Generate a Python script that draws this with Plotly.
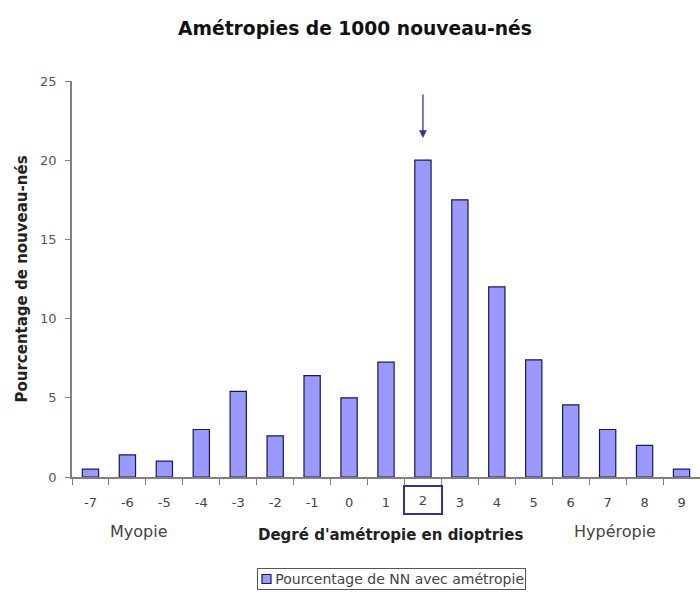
import plotly.graph_objects as go

categories = ["-7", "-6", "-5", "-4", "-3", "-2", "-1", "0", "1", "2",
              "3", "4", "5", "6", "7", "8", "9"]
values = [0.5, 1.4, 1.0, 3.0, 5.4, 2.6, 6.4, 5.0, 7.25, 20.0,
          17.5, 12.0, 7.4, 4.55, 3.0, 2.0, 0.5]
series_name = "Pourcentage de NN avec amétropie"
title_text = "Amétropies de 1000 nouveau-nés"
x_title = "Degré d'amétropie en dioptries"
y_title = "Pourcentage de nouveau-nés"
left_label = "Myopie"
right_label = "Hypéropie"
highlight = "2"
y_ticks = [0, 5, 10, 15, 20, 25]

FONT = "DejaVu Sans"
navy = "#333399"
bar_fill = "#9999FF"
bar_edge = "#1a1a4d"

W, H = 700, 594
L, R, T, B = 72, 0, 81, 117
PW, PH = W - L - R, H - T - B


def px(xp):
    return (xp - L) / PW


def py(yp):
    return (H - B - yp) / PH


hi = categories.index(highlight)
hi_val = values[hi]
tick_text = ["" if c == highlight else c for c in categories]

fig = go.Figure()
fig.add_trace(go.Bar(
    x=categories, y=values, name=series_name,
    marker=dict(color=bar_fill, line=dict(color=bar_edge, width=1.2)),
    showlegend=False,
))

fig.update_layout(
    width=W, height=H,
    paper_bgcolor="white", plot_bgcolor="white",
    margin=dict(l=L, r=R, t=T, b=B, autoexpand=False),
    bargap=0.56,
    font=dict(family=FONT, size=13, color="#333333"),
    title=dict(text="<b>" + title_text + "</b>", x=355 / W, xanchor="center",
               xref="container", y=1 - 28 / H, yanchor="middle",
               font=dict(family=FONT, size=18.7, color="#111111")),
    showlegend=False,
    xaxis=dict(
        type="category", range=[-0.5, len(categories) - 0.5],
        tickvals=categories, ticktext=tick_text,
        showline=True, linecolor="#808080", linewidth=1.5,
        ticks="outside", tickson="boundaries", ticklen=6, tickcolor="#808080",
        tickwidth=1.2,
        tickfont=dict(family=FONT, size=13, color="#444444"),
        ticklabelstandoff=13,
        showgrid=False, zeroline=False,
    ),
    yaxis=dict(
        range=[0, 25], tickvals=y_ticks,
        showline=True, linecolor="#808080", linewidth=1.5,
        ticks="outside", ticklen=5, tickcolor="#808080", tickwidth=1.2,
        tickfont=dict(family=FONT, size=13, color="#555555"),
        ticklabelstandoff=6,
        showgrid=False, zeroline=False,
        title=dict(text="<b>" + y_title + "</b>", standoff=9,
                   font=dict(family=FONT, size=15, color="#222222")),
    ),
)

# x-axis title and side labels
fig.add_annotation(text="<b>" + x_title + "</b>", xref="paper", yref="paper",
                   x=px(390), y=py(535), xanchor="center", yanchor="middle",
                   showarrow=False,
                   font=dict(family=FONT, size=15, color="#222222"))
fig.add_annotation(text=left_label, xref="paper", yref="paper",
                   x=px(139), y=py(531), xanchor="center", yanchor="middle",
                   showarrow=False,
                   font=dict(family=FONT, size=16, color="#444444"))
fig.add_annotation(text=right_label, xref="paper", yref="paper",
                   x=px(615), y=py(531), xanchor="center", yanchor="middle",
                   showarrow=False,
                   font=dict(family=FONT, size=16, color="#444444"))

# boxed highlighted tick
fig.add_annotation(text=highlight, xref="x", x=hi, yref="paper",
                   y=py(500), xanchor="center", yanchor="middle",
                   showarrow=False,
                   width=34, height=24, borderwidth=2, borderpad=1,
                   bordercolor=navy,
                   font=dict(family=FONT, size=13, color="#444444"))

# arrow above the peak
fig.add_annotation(text="", xref="x", x=hi, yref="y", y=hi_val + 1.4,
                   showarrow=True, ax=0, ay=-45, arrowhead=2, arrowsize=1.2,
                   arrowwidth=1.3, arrowcolor=navy)

# legend (box, symbol, text)
fig.add_annotation(text=series_name, xref="paper", yref="paper",
                   x=px(391.5), y=py(579), xanchor="center", yanchor="middle",
                   showarrow=False, width=265, height=18, align="right",
                   borderwidth=1, borderpad=1, bordercolor="#555555",
                   font=dict(family=FONT, size=14, color="#444444"))
fig.add_shape(type="rect", xref="paper", yref="paper", layer="above",
              x0=px(262), x1=px(271), y0=py(583.5), y1=py(574.5),
              fillcolor=bar_fill, line=dict(color=bar_edge, width=1.2))

fig.write_html("out.html",
               config={"displayModeBar": False},
               post_script="document.body.style.margin='0';"
                           "document.body.style.padding='0';")
